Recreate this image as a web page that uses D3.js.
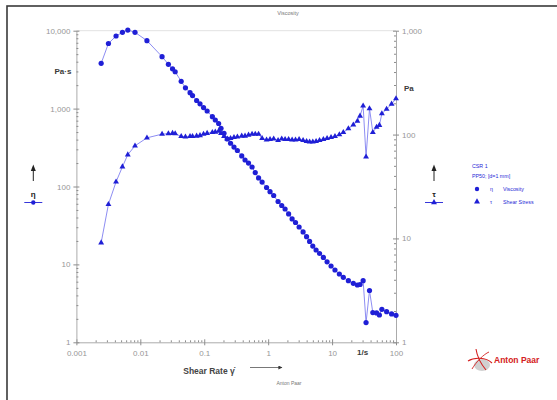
<!DOCTYPE html>
<html>
<head>
<meta charset="utf-8">
<script src="https://cdn.jsdelivr.net/npm/d3@7"></script>
<style>
  body { margin: 0; background: #fff; }
  svg { display: block; font-family: "Liberation Sans", Arial, sans-serif; }
</style>
</head>
<body>
<div id="chart"></div>
<script>
const shearRate = [0.00244, 0.00317, 0.00417, 0.00525, 0.00637, 0.00826, 0.0127, 0.0219, 0.0275, 0.0319,
  0.0351, 0.0436, 0.0508, 0.060, 0.0656, 0.076, 0.0859, 0.0975, 0.111, 0.134,
  0.149, 0.168, 0.183, 0.204, 0.229, 0.258, 0.292, 0.330, 0.386, 0.435,
  0.493, 0.560, 0.628, 0.708, 0.804, 0.944, 1.07, 1.22, 1.43, 1.63,
  1.84, 2.09, 2.37, 2.68, 3.05, 3.52, 3.99, 4.45, 4.99, 5.62,
  6.37, 7.31, 8.35, 9.64, 11.1, 13.0, 15.0, 18.0, 21.5, 24.9,
  27.4, 30.6, 34.0, 38.5, 43.4, 49.7, 55.0, 60.1, 71.3, 85.3, 100];
const viscosity = [3810, 6850, 8550, 9530, 10200, 9530, 7450, 4640, 3700, 3240,
  2970, 2240, 1850, 1600, 1470, 1270, 1150, 1030, 931, 787,
  714, 644, 559, 482, 407, 359, 321, 290, 247, 219,
  200, 178, 151, 129, 114, 97.1, 85.8, 76.6, 64.2, 57.0,
  51.4, 44.4, 38.3, 34.5, 30.2, 26.1, 22.7, 19.7, 17.2, 15.3,
  13.8, 12.3, 10.8, 9.54, 8.47, 7.53, 6.83, 6.18, 5.72, 5.44,
  5.52, 6.18, 1.79, 4.62, 2.41, 2.38, 2.24, 2.65, 2.47, 2.31, 2.22];
const shearStress = [9.1, 21.3, 35, 49, 64, 78, 93, 101, 102, 103,
  102, 96, 95, 96, 96, 97, 98, 101, 103, 105,
  106, 108, 103, 96, 91, 92, 94, 95, 97, 97,
  99, 101, 101, 101, 92, 89, 90, 91, 88, 91,
  90, 90, 89, 89, 90, 88, 86, 85, 85, 86,
  88, 90, 92, 94, 96, 100, 105, 114, 124, 135,
  151, 189, 61, 178, 105, 118, 123, 159, 176, 197, 222];

const xTicks = [0.001, 0.01, 0.1, 1, 10, 100];
const xTickLabels = ["0.001", "0.01", "0.1", "1", "10", "100"];
const etaTicks = [1, 10, 100, 1000, 10000];
const etaTickLabels = ["1", "10", "100", "1,000", "10,000"];
const tauTicks = [1, 10, 100, 1000];
const tauTickLabels = ["1", "10", "100", "1,000"];
const legendLines = ["CSR 1", "PP50; [d=1 mm]"];
const seriesNames = [["η", "Viscosity"], ["τ", "Shear Stress"]];

const W = 557, H = 400;
const plot = {left: 76.4, right: 396, top: 30.7, bottom: 342.3};
const BLUE = "#1f1fd6", LINE_BLUE = "#8080f0", AXIS = "#ababab", TICK_TXT = "#979797";

const rows = shearRate.map((g, i) => ({g: g, eta: viscosity[i], tau: shearStress[i]}));

const x = d3.scaleLog().domain([0.001, 100]).range([plot.left, plot.right]);
const yEta = d3.scaleLog().domain([1, 10000]).range([plot.bottom, plot.top]);
const yTau = d3.scaleLog().domain([1, 1000]).range([plot.bottom, plot.top]);

function minors(lo, hi) {
    const out = [];
    for (let d = lo; d < hi; d *= 10) {
        for (let k = 2; k <= 9; k++) out.push(d * k);
    }
    return out;
}

const svg = d3.select("#chart").append("svg")
    .attr("width", W).attr("height", H);

svg.append("rect").attr("width", W).attr("height", H).attr("fill", "#fff");
// outer frame (runs off the bottom/right edge)
svg.append("rect")
    .attr("x", 7).attr("y", 6).attr("width", W + 10).attr("height", H + 10)
    .attr("fill", "none").attr("stroke", "#3a3a3a").attr("stroke-width", 1.6);

// top border of plot
svg.append("line")
    .attr("x1", plot.left).attr("x2", plot.right)
    .attr("y1", plot.top).attr("y2", plot.top)
    .attr("stroke", "#e2e2e2").attr("stroke-width", 1);

function styleAxis(g) {
    g.select(".domain").attr("stroke", AXIS);
    g.selectAll(".tick line").attr("stroke", "#8c8c8c");
    g.selectAll(".tick text").attr("fill", TICK_TXT).style("font-size", "8px");
}

// x axis
const gx = svg.append("g").attr("transform", `translate(0,${plot.bottom})`)
    .call(d3.axisBottom(x).tickValues(xTicks).tickFormat((d, i) => xTickLabels[i])
        .tickSize(3).tickSizeOuter(0).tickPadding(5));
gx.selectAll(".tick line").attr("y1", -3);
styleAxis(gx);
const gxm = svg.append("g").attr("transform", `translate(0,${plot.bottom})`)
    .call(d3.axisBottom(x).tickValues(minors(0.001, 100)).tickFormat("").tickSize(-2).tickSizeOuter(0));
gxm.select(".domain").remove();
gxm.selectAll(".tick line").attr("stroke", "#8c8c8c");

// left axis
const gl = svg.append("g").attr("transform", `translate(${plot.left},0)`)
    .call(d3.axisLeft(yEta).tickValues(etaTicks).tickFormat((d, i) => etaTickLabels[i])
        .tickSize(3).tickSizeOuter(0).tickPadding(3));
gl.selectAll(".tick line").attr("x1", 3);
styleAxis(gl);
const glm = svg.append("g").attr("transform", `translate(${plot.left},0)`)
    .call(d3.axisLeft(yEta).tickValues(minors(1, 10000)).tickFormat("").tickSize(-2).tickSizeOuter(0));
glm.select(".domain").remove();
glm.selectAll(".tick line").attr("stroke", "#8c8c8c");

// right axis
const gr = svg.append("g").attr("transform", `translate(${plot.right},0)`)
    .call(d3.axisRight(yTau).tickValues(tauTicks).tickFormat((d, i) => tauTickLabels[i])
        .tickSize(3).tickSizeOuter(0).tickPadding(3));
gr.selectAll(".tick line").attr("x1", -3);
styleAxis(gr);
const grm = svg.append("g").attr("transform", `translate(${plot.right},0)`)
    .call(d3.axisRight(yTau).tickValues(minors(1, 1000)).tickFormat("").tickSize(-2).tickSizeOuter(0));
grm.select(".domain").remove();
grm.selectAll(".tick line").attr("stroke", "#8c8c8c");

// unit labels
const unit = (tx, ty, t, anchor) => svg.append("text")
    .attr("x", tx).attr("y", ty).attr("text-anchor", anchor || "start")
    .attr("fill", "#3a3a3a").style("font-size", "8px").style("font-weight", "bold").text(t);
unit(plot.left - 5, yEta(3000) + 3, "Pa·s", "end");
unit(plot.right + 8, yTau(280) + 3, "Pa");
unit(x(30), plot.bottom + 13, "1/s", "middle");

// x axis title with arrow
svg.append("text").attr("x", 209).attr("y", 374).attr("text-anchor", "middle")
    .attr("fill", "#444").style("font-size", "8.5px").style("font-weight", "bold")
    .text("Shear Rate γ̇");
svg.append("defs").append("marker")
    .attr("id", "arr").attr("viewBox", "0 0 10 10").attr("refX", 9).attr("refY", 5)
    .attr("markerWidth", 7).attr("markerHeight", 5).attr("orient", "auto")
  .append("path").attr("d", "M0,0L10,5L0,10Z").attr("fill", "#333");
svg.append("line").attr("x1", 250).attr("x2", 282).attr("y1", 367.5).attr("y2", 367.5)
    .attr("stroke", "#555").attr("stroke-width", 0.8).attr("marker-end", "url(#arr)");

// tiny header / footer
svg.append("text").attr("x", 288).attr("y", 15).attr("text-anchor", "middle")
    .attr("fill", "#777").style("font-size", "5.5px").text("Viscosity");
svg.append("text").attr("x", 289).attr("y", 385).attr("text-anchor", "middle")
    .attr("fill", "#777").style("font-size", "5px").text("Anton Paar");

// data lines
const lineEta = d3.line().x(d => x(d.g)).y(d => yEta(d.eta));
const lineTau = d3.line().x(d => x(d.g)).y(d => yTau(d.tau));
svg.append("path").datum(rows).attr("d", lineTau)
    .attr("fill", "none").attr("stroke", LINE_BLUE).attr("stroke-width", 0.9);
svg.append("path").datum(rows).attr("d", lineEta)
    .attr("fill", "none").attr("stroke", LINE_BLUE).attr("stroke-width", 0.9);

const tri = d3.symbol().type(d3.symbolTriangle).size(15);
svg.append("g").selectAll("path").data(rows).join("path")
    .attr("d", tri)
    .attr("transform", d => `translate(${x(d.g)},${yTau(d.tau)})`)
    .attr("fill", BLUE);
svg.append("g").selectAll("circle").data(rows).join("circle")
    .attr("cx", d => x(d.g)).attr("cy", d => yEta(d.eta))
    .attr("r", 2.6).attr("fill", BLUE);

// axis-side keys (arrow, symbol, sample line)
function sideKey(cx, sym, marker) {
    svg.append("line").attr("x1", cx).attr("x2", cx).attr("y1", 181).attr("y2", 170)
        .attr("stroke", "#222").attr("stroke-width", 1);
    svg.append("path").attr("d", `M${cx - 2.5},${171}L${cx},${164.5}L${cx + 2.5},${171}Z`).attr("fill", "#222");
    svg.append("text").attr("x", cx).attr("y", 197).attr("text-anchor", "middle")
        .attr("fill", "#222").style("font-size", "8px").style("font-weight", "bold").text(sym);
    svg.append("line").attr("x1", cx - 9).attr("x2", cx + 9).attr("y1", 202.5).attr("y2", 202.5)
        .attr("stroke", BLUE).attr("stroke-width", 0.9);
    if (marker === "circle") {
        svg.append("circle").attr("cx", cx).attr("cy", 202.5).attr("r", 2.2).attr("fill", BLUE);
    } else {
        svg.append("path").attr("d", tri).attr("transform", `translate(${cx},202.5)`).attr("fill", BLUE);
    }
}
sideKey(33.3, seriesNames[0][0], "circle");
sideKey(434, seriesNames[1][0], "triangle");

// legend block
const lg = svg.append("g").attr("transform", "translate(472,0)")
    .attr("fill", BLUE).style("font-size", "5.3px");
legendLines.forEach((t, i) => lg.append("text").attr("x", 0).attr("y", 167.5 + i * 10.5).text(t));
seriesNames.forEach((s, i) => {
    const yy = 189 + i * 12.7;
    if (i === 0) lg.append("circle").attr("cx", 5).attr("cy", yy).attr("r", 2.2);
    else lg.append("path").attr("d", tri).attr("transform", `translate(5,${yy})`);
    lg.append("text").attr("x", 18).attr("y", yy + 2).text(s[0]);
    lg.append("text").attr("x", 31).attr("y", yy + 2).text(s[1]);
});

// Anton Paar logo
const logo = svg.append("g").attr("transform", "translate(480,360)");
logo.append("ellipse").attr("cx", 2).attr("cy", 5).attr("rx", 8).attr("ry", 6).attr("fill", "#c4c4c4").attr("opacity", 0.8);
logo.append("path").attr("d", "M-12,1C-6,-3 6,-3 12,3").attr("fill", "none").attr("stroke", "#d42020").attr("stroke-width", 1.1);
logo.append("path").attr("d", "M-4,-11C-3,-4 1,4 6,10").attr("fill", "none").attr("stroke", "#d42020").attr("stroke-width", 1.1);
logo.append("path").attr("d", "M-8,9C-4,2 4,-6 9,-8").attr("fill", "none").attr("stroke", "#d42020").attr("stroke-width", 0.9);
svg.append("text").attr("x", 494).attr("y", 363).attr("fill", "#d42020")
    .style("font-size", "8.5px").style("font-weight", "bold").text("Anton Paar");
</script>
</body>
</html>
